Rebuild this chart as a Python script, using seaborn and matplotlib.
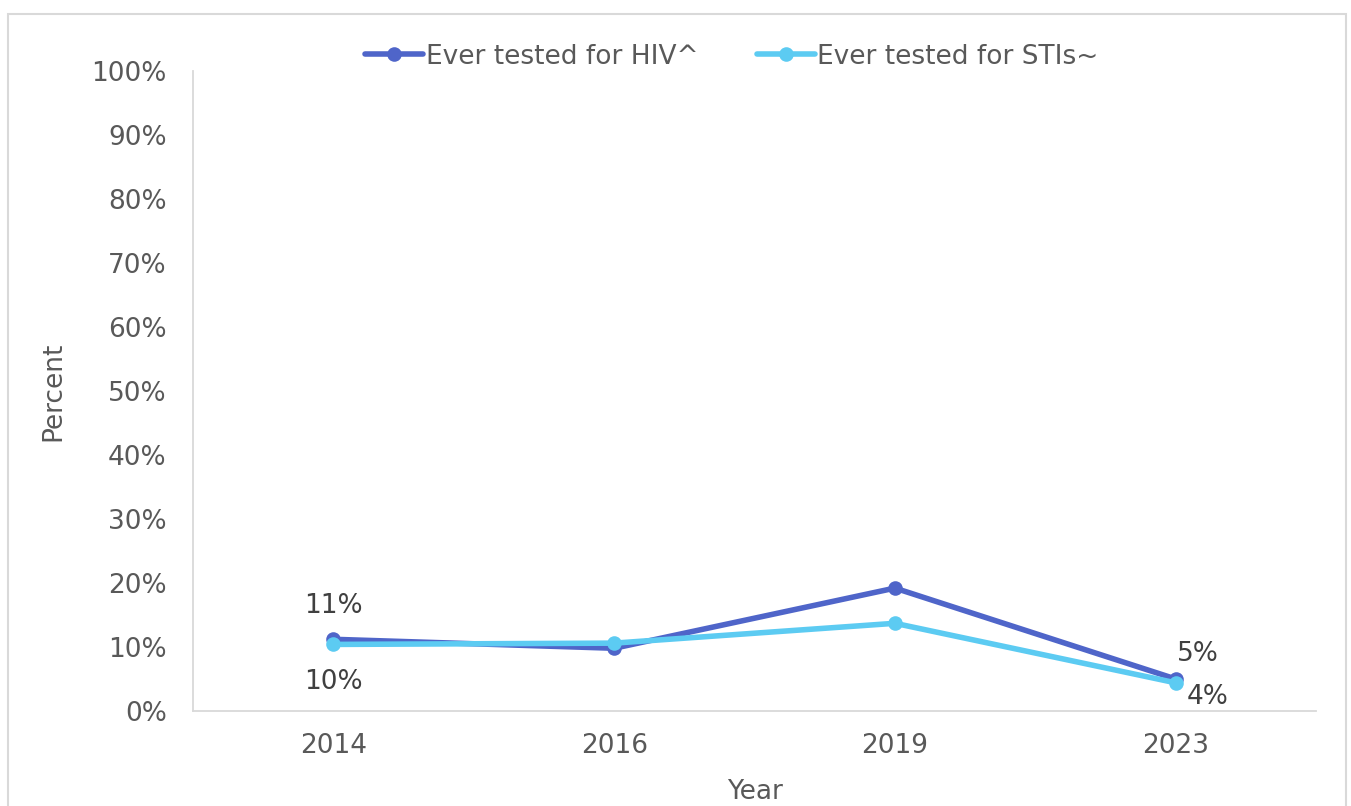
import pandas as pd
import numpy as np
import seaborn as sns
import matplotlib.pyplot as plt
from matplotlib.patches import Rectangle

# Data
years = ['2014', '2016', '2019', '2023']
hiv_tested = [11.2, 9.8, 19.2, 5.0]
sti_tested = [10.4, 10.6, 13.7, 4.4]
series_names = ['Ever tested for HIV^', 'Ever tested for STIs~']
hiv_labels = {0: '11%', 3: '5%'}
sti_labels = {0: '10%', 3: '4%'}

HIV_COLOR = '#4F65C9'
STI_COLOR = '#5CCBF2'
TEXT_GREY = '#595959'
FS = 19

df = pd.DataFrame({
    'Year': years * 2,
    'Percent': hiv_tested + sti_tested,
    'Series': [series_names[0]] * len(years) + [series_names[1]] * len(years),
})

sns.set_style('white')
plt.rcParams['font.family'] = ['DejaVu Sans']

fig = plt.figure(figsize=(13.51, 8.06), dpi=100)
ax = fig.add_axes([0.1429, 0.1179, 0.8312, 0.794])

# chart frame (light border around the whole chart area)
fig.patches.append(Rectangle((8 / 1351, -0.02), 1338 / 1351, (806 - 14) / 806 + 0.02,
                             transform=fig.transFigure, fill=False,
                             edgecolor='#D9D9D9', linewidth=1.5))

sns.lineplot(data=df, x='Year', y='Percent', hue='Series',
             palette=[HIV_COLOR, STI_COLOR], marker='o', markersize=10.5,
             markeredgewidth=0, linewidth=4, sort=False, ax=ax)

# Data labels
for i, txt in hiv_labels.items():
    dx, dy = (0, 24) if i == 0 else (16, 18)
    ax.annotate(txt, (i, hiv_tested[i]), xytext=(dx, dy), textcoords='offset points',
                ha='center', va='center', fontsize=FS, color='#404040')
for i, txt in sti_labels.items():
    dx, dy = (0, -27) if i == 0 else (23, -10)
    ax.annotate(txt, (i, sti_tested[i]), xytext=(dx, dy), textcoords='offset points',
                ha='center', va='center', fontsize=FS, color='#404040')

ax.set_xlim(-0.5, len(years) - 0.5)
ax.set_ylim(0, 100)
ax.set_yticks(np.arange(0, 101, 10))
ax.set_yticklabels([f'{v}%' for v in range(0, 101, 10)])
ax.tick_params(axis='both', labelsize=FS, labelcolor=TEXT_GREY, length=0)
ax.tick_params(axis='y', pad=19)
ax.tick_params(axis='x', pad=16)

ax.set_xlabel('Year', fontsize=FS, color=TEXT_GREY, labelpad=14)
ax.set_ylabel('Percent', fontsize=FS, color=TEXT_GREY, labelpad=18)

for side in ['top', 'right']:
    ax.spines[side].set_visible(False)
for side in ['left', 'bottom']:
    ax.spines[side].set_color('#D9D9D9')
    ax.spines[side].set_linewidth(1.3)

leg = ax.legend(loc='upper center', bbox_to_anchor=(0.48, 1.08), ncol=2,
                frameon=False, fontsize=FS, handlelength=2.2,
                handletextpad=0.1, columnspacing=2.2)
for t in leg.get_texts():
    t.set_color(TEXT_GREY)

fig.savefig('out.png', dpi=100)
